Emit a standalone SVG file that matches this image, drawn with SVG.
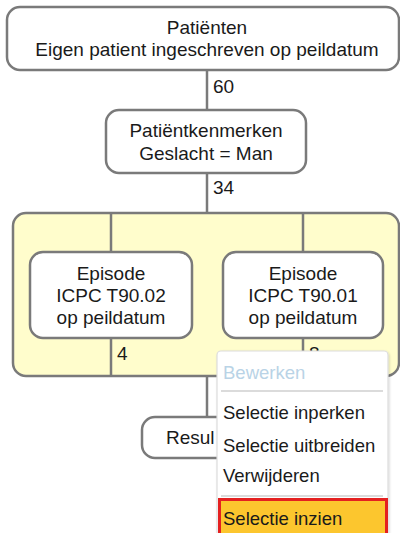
<svg xmlns="http://www.w3.org/2000/svg" width="400" height="533" viewBox="0 0 400 533">
<style>
text{font-family:"Liberation Sans",Arial,sans-serif;font-size:19px;fill:#1a1a1a}
.c{text-anchor:middle}
.node{fill:#fff;stroke:#7a7a7a;stroke-width:2.5}
.line{stroke:#7a7a7a;stroke-width:2.5;fill:none}
.menu{font-size:18.5px}
</style>
<defs>
<filter id="sh" x="-10%" y="-10%" width="130%" height="130%">
<feDropShadow dx="1" dy="1" stdDeviation="1.2" flood-color="#000" flood-opacity="0.15"/>
</filter>
</defs>
<rect width="400" height="533" fill="#fff"/>
<g id="container">
<rect x="13" y="213" width="386" height="163" rx="13" fill="#fffdcc" stroke="#7a7a7a" stroke-width="2.5"/>
</g>
<g id="connectors">
<line class="line" x1="207" y1="70" x2="207" y2="110"/>
<line class="line" x1="207" y1="173" x2="207" y2="213"/>
<line class="line" x1="111" y1="213" x2="111" y2="252"/>
<line class="line" x1="303" y1="213" x2="303" y2="252"/>
<line class="line" x1="111" y1="338" x2="111" y2="376"/>
<line class="line" x1="303" y1="338" x2="303" y2="376"/>
<line class="line" x1="207" y1="376" x2="207" y2="417"/>
<text x="213" y="93">60</text>
<text x="213" y="194">34</text>
<text x="117" y="360">4</text>
<text x="309" y="360">8</text>
</g>
<g id="patienten">
<rect class="node" x="7" y="7" width="392" height="63" rx="13"/>
<text class="c" x="207" y="34">Patiënten</text>
<text class="c" x="207" y="56">Eigen patient ingeschreven op peildatum</text>
</g>
<g id="kenmerken">
<rect class="node" x="106" y="110" width="200" height="63" rx="13"/>
<text class="c" x="206" y="137">Patiëntkenmerken</text>
<text class="c" x="206" y="160">Geslacht = Man</text>
</g>
<g id="episode1">
<rect class="node" x="30" y="252" width="162" height="86" rx="13"/>
<text class="c" x="111" y="280">Episode</text>
<text class="c" x="111" y="302">ICPC T90.02</text>
<text class="c" x="111" y="324">op peildatum</text>
</g>
<g id="episode2">
<rect class="node" x="223" y="252" width="160" height="86" rx="13"/>
<text class="c" x="303" y="280">Episode</text>
<text class="c" x="303" y="302">ICPC T90.01</text>
<text class="c" x="303" y="324">op peildatum</text>
</g>
<g id="resultaat">
<rect class="node" x="142" y="417" width="130" height="41" rx="13"/>
<text x="166" y="444">Resul</text>
</g>
<g id="menu">
<rect x="217" y="351" width="171" height="190" rx="4" fill="#fff" stroke="#dcdcdc" stroke-width="1.2" filter="url(#sh)"/>
<text class="menu" x="223" y="379" style="fill:#b9d3e6">Bewerken</text>
<line x1="221" y1="391" x2="383" y2="391" stroke="#cfcfcf" stroke-width="1.5"/>
<text class="menu" x="223" y="419">Selectie inperken</text>
<text class="menu" x="223" y="452">Selectie uitbreiden</text>
<text class="menu" x="223" y="482">Verwijderen</text>
<line x1="221" y1="496" x2="383" y2="496" stroke="#cfcfcf" stroke-width="1.5"/>
<rect x="219.5" y="499.5" width="167" height="40" fill="#fcc62e" stroke="#e42020" stroke-width="3"/>
<text class="menu" x="223" y="525">Selectie inzien</text>
</g>
</svg>
